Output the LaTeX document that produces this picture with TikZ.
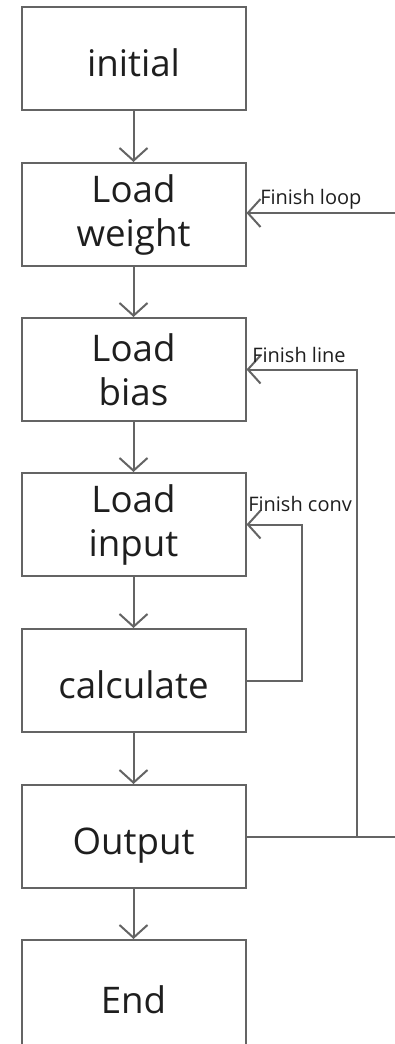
\documentclass[tikz,border=0pt]{standalone}
\usepackage{fontspec}
\setmainfont{Open Sans}
\usetikzlibrary{arrows.meta}
\definecolor{edge}{HTML}{646464}
\definecolor{ink}{HTML}{1E1E1E}
\begin{document}
\begin{tikzpicture}[x=0.75pt,y=-0.75pt,
  stepbox/.style={draw=edge, line width=1.5pt, minimum width=168pt,
    minimum height=77.25pt, inner sep=0pt, text=ink,
    font=\fontsize{27.5pt}{33pt}\selectfont, align=center},
  oneline/.style={text height=27pt, text depth=0pt},
  flow/.style={draw=edge, line width=1.5pt,
    -{Straight Barb[length=9.5pt,width=21pt]}},
  wire/.style={draw=edge, line width=1.5pt},
  tag/.style={text=ink, font=\fontsize{15pt}{18pt}\selectfont,
    inner sep=0pt, anchor=base west}]
\useasboundingbox (0,0) rectangle (395,1044);
\clip (0,0) rectangle (395,1044);

% main chain of steps
\node[stepbox, oneline] (init)   at (133.5, 58.5)  {initial};
\node[stepbox]          (weight) at (133.5, 214.5) {Load\\weight};
\node[stepbox]          (bias)   at (133.5, 369.5) {Load\\bias};
\node[stepbox]          (input)  at (133.5, 524.5) {Load\\input};
\node[stepbox, oneline] (calc)   at (133.5, 680.5) {calculate};
\node[stepbox, oneline] (out)    at (133.5, 836.5) {Output};
% the last box runs past the lower edge of the page
\node[stepbox, oneline, minimum height=82.5pt] (fin) at (133.5, 995) {End};

\draw[flow] (init)   -- (weight);
\draw[flow] (weight) -- (bias);
\draw[flow] (bias)   -- (input);
\draw[flow] (input)  -- (calc);
\draw[flow] (calc)   -- (out);
\draw[flow] (out)    -- (fin);

% feedback paths
\coordinate (loopin)   at (400, 213);
\coordinate (outexit)  at (400, 836.5);
\coordinate (lineturn) at (357, 369.5);
\coordinate (convturn) at (302, 600);

\draw[flow] (loopin) -- (loopin -| weight.east);
\draw[wire] (out.east) -- (outexit);
\draw[flow] (out.east) -| (lineturn) -- (bias.east);
\draw[flow] (calc.east) -| (convturn) |- (input.east);

\node[tag] (tagloop) at (260, 205) {Finish loop};
\node[tag] (tagline) at (252, 363) {Finish line};
\node[tag] (tagconv) at (248, 511) {Finish conv};
\end{tikzpicture}
\end{document}
